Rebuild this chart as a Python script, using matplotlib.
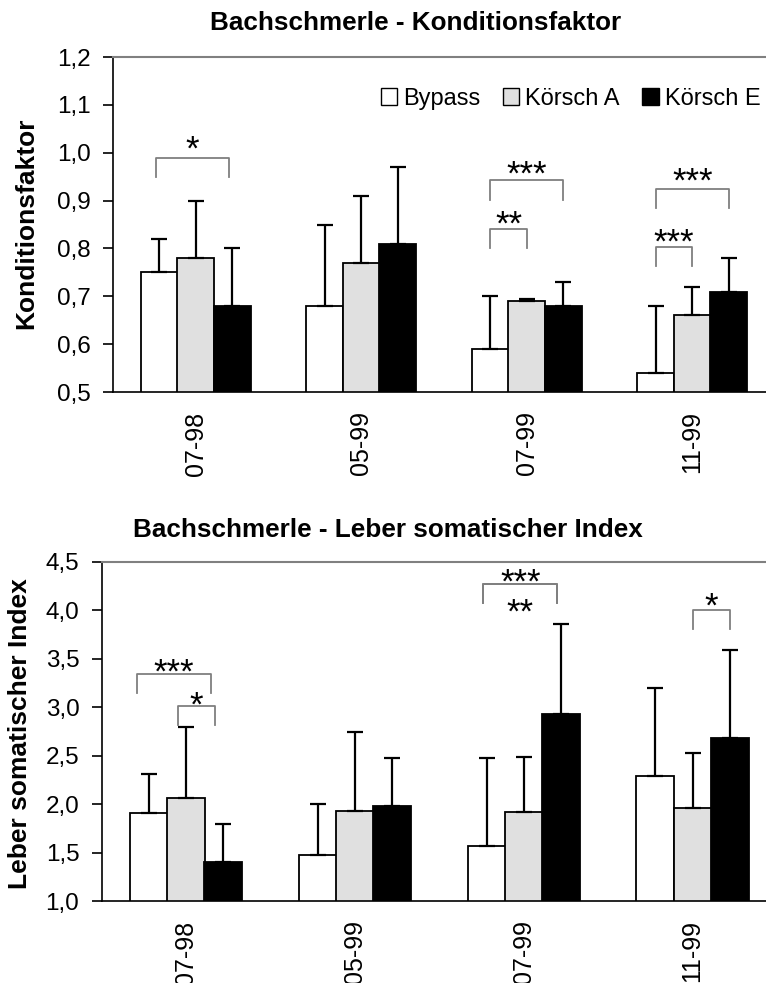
import matplotlib
matplotlib.use('Agg')
import matplotlib.pyplot as plt
import numpy as np

plt.rcParams['font.family'] = ['Liberation Sans', 'DejaVu Sans']

# Probenahmen und Standorte
termine = ['07-98', '05-99', '07-99', '11-99']
standorte = ['Bypass', 'Körsch A', 'Körsch E']
farben = ['white', '#e0e0e0', 'black']

# Konditionsfaktor (Mittelwert und Standardabweichung)
kf_bypass = [0.75, 0.68, 0.59, 0.54]
kf_a = [0.78, 0.77, 0.69, 0.66]
kf_e = [0.68, 0.81, 0.68, 0.71]
kf_bypass_sd = [0.07, 0.17, 0.11, 0.14]
kf_a_sd = [0.12, 0.14, 0.005, 0.06]
kf_e_sd = [0.12, 0.16, 0.05, 0.07]

# Leber somatischer Index
lsi_bypass = [1.91, 1.48, 1.57, 2.29]
lsi_a = [2.06, 1.93, 1.92, 1.96]
lsi_e = [1.40, 1.98, 2.93, 2.68]
lsi_bypass_sd = [0.40, 0.52, 0.91, 0.91]
lsi_a_sd = [0.74, 0.81, 0.57, 0.57]
lsi_e_sd = [0.39, 0.50, 0.93, 0.91]

# Signifikanzen: (Termin, Balken 1, Balken 2, Verschiebung, Hoehe, Hoehe Sterne, Sterne)
kf_sig = [(0, 0, 2, -0.02, 0.989, 1.026, '*'),
          (2, 0, 1, 0.0, 0.841, 0.869, '**'),
          (2, 0, 2, 0.0, 0.942, 0.974, '***'),
          (3, 0, 1, 0.0, 0.804, 0.831, '***'),
          (3, 0, 2, 0.0, 0.925, 0.960, '***')]
lsi_sig = [(0, 0, 2, -0.07, 3.34, 3.457, '***'),
           (0, 1, 2, -0.05, 3.01, 3.113, '*'),
           (2, 0, 2, -0.02, 4.27, 4.386, '***'),
           (2, 0, 2, -0.02, 4.27, 4.077, '**'),
           (3, 1, 2, 0.0, 4.00, 4.139, '*')]

x = np.arange(len(termine))
versatz = [-0.22, 0.0, 0.22]
breite = 0.225


def diagramm(ax, werte, sds, sig, ymin, ymax, schritt, bein, ylabel):
    for i in range(3):
        ax.bar(x + versatz[i], werte[i], breite, bottom=0, color=farben[i],
               edgecolor='black', linewidth=1.3, zorder=2, label=standorte[i])
        ax.errorbar(x + versatz[i], werte[i], yerr=[np.zeros(4), sds[i]], fmt='none',
                    ecolor='black', elinewidth=1.6, capsize=6, capthick=1.6, zorder=3)
    for g, i, j, dx, h, hs, sterne in sig:
        x1 = x[g] + versatz[i] + dx
        x2 = x[g] + versatz[j] + dx
        ax.plot([x1, x1, x2, x2], [h - bein, h, h, h - bein], color='#7f7f7f', lw=1.3, zorder=4)
        ax.annotate(sterne, ((x1 + x2) / 2, hs), xytext=(0, -14), textcoords='offset points',
                    ha='center', va='baseline', fontsize=25)
    ax.set_xlim(-0.5, 3.5)
    ax.set_ylim(ymin, ymax)
    ticks = np.arange(ymin, ymax + schritt / 2, schritt)
    ax.set_yticks(ticks)
    ax.set_yticklabels([f'{t:.1f}'.replace('.', ',') for t in ticks], fontsize=17.5)
    ax.set_xticks(x)
    ax.set_xticklabels(termine, rotation=90, fontsize=18)
    ax.tick_params(axis='x', length=0, pad=14)
    ax.tick_params(axis='y', length=7, width=1.2, direction='out', pad=9)
    ax.spines['top'].set_color('#808080')
    ax.spines['top'].set_linewidth(1.5)
    ax.spines['right'].set_visible(False)
    ax.spines['left'].set_linewidth(1.2)
    ax.spines['bottom'].set_linewidth(1.2)
    ax.set_ylabel(ylabel, fontsize=19, fontweight='bold')


fig = plt.figure(figsize=(7.66, 9.83), dpi=100)

ax1 = fig.add_axes([0.1475, 0.6012, 0.8642, 0.3408])
diagramm(ax1, [kf_bypass, kf_a, kf_e], [kf_bypass_sd, kf_a_sd, kf_e_sd], kf_sig,
         0.5, 1.2, 0.1, 0.04, 'Konditionsfaktor')
ax1.yaxis.set_label_coords(-0.113, 0.503)
fig.text(0.543, 0.9766, 'Bachschmerle - Konditionsfaktor', ha='center', va='center',
         fontsize=18.8, fontweight='bold')
leg = ax1.legend(loc='center right', bbox_to_anchor=(0.978, 0.876), ncol=3, frameon=False,
                 fontsize=17, handlelength=0.7, handleheight=0.7, handletextpad=0.25,
                 columnspacing=0.95, borderpad=0, borderaxespad=0)
for h in leg.legend_handles:
    h.set_linewidth(1.0)

ax2 = fig.add_axes([0.1326, 0.0834, 0.8817, 0.3449])
diagramm(ax2, [lsi_bypass, lsi_a, lsi_e], [lsi_bypass_sd, lsi_a_sd, lsi_e_sd], lsi_sig,
         1.0, 4.5, 0.5, 0.19, 'Leber somatischer Index')
ax2.yaxis.set_label_coords(-0.103, 0.494)
fig.text(0.5065, 0.4608, 'Bachschmerle - Leber somatischer Index', ha='center', va='center',
         fontsize=18.8, fontweight='bold')

plt.savefig('out.png', dpi=100)
